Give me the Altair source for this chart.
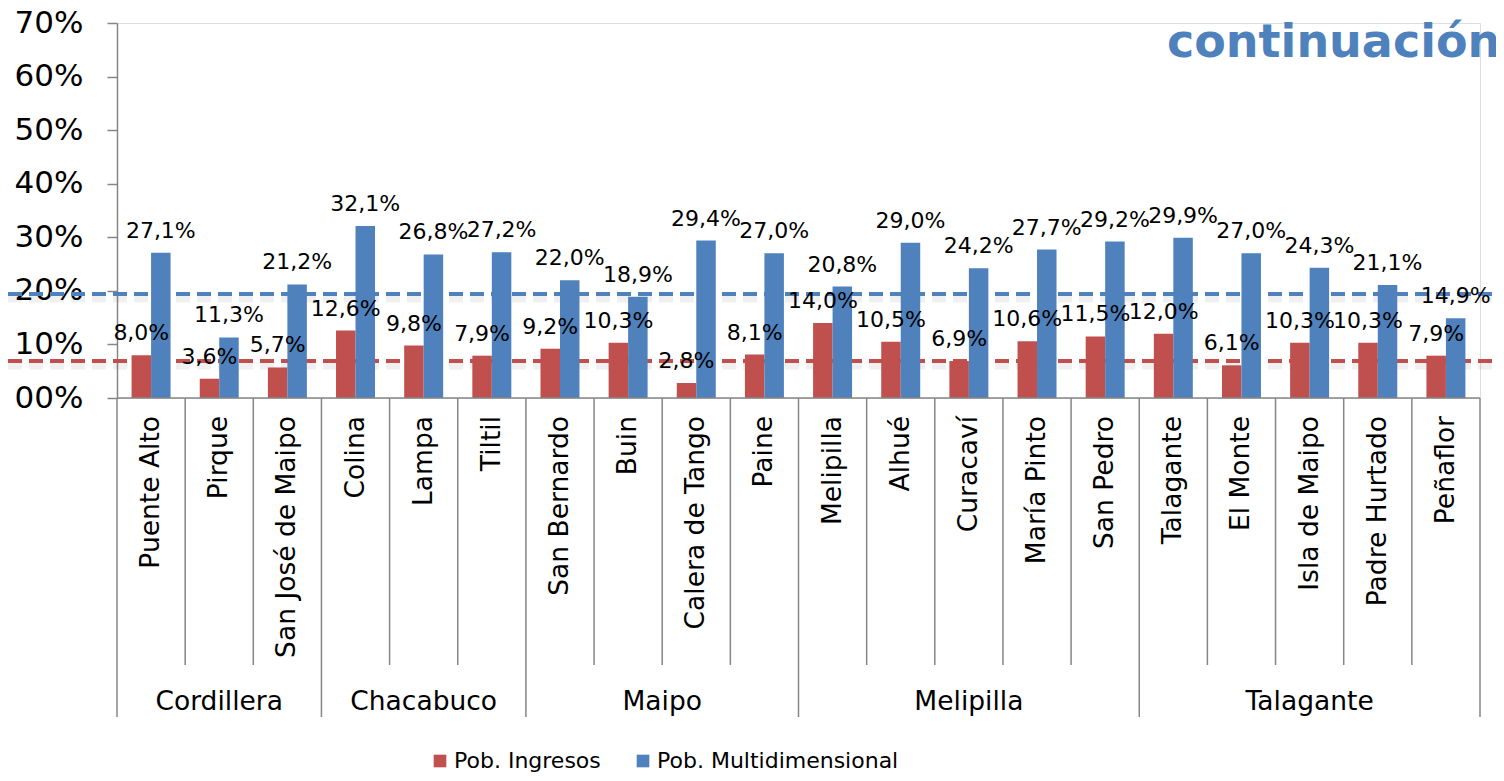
import altair as alt
import pandas as pd

communes = ["Puente Alto", "Pirque", "San José de Maipo", "Colina", "Lampa", "Tiltil",
            "San Bernardo", "Buin", "Calera de Tango", "Paine", "Melipilla", "Alhué",
            "Curacaví", "María Pinto", "San Pedro", "Talagante", "El Monte",
            "Isla de Maipo", "Padre Hurtado", "Peñaflor"]
ingresos = [8.0, 3.6, 5.7, 12.6, 9.8, 7.9, 9.2, 10.3, 2.8, 8.1, 14.0, 10.5, 6.9, 10.6,
            11.5, 12.0, 6.1, 10.3, 10.3, 7.9]
multidim = [27.1, 11.3, 21.2, 32.1, 26.8, 27.2, 22.0, 18.9, 29.4, 27.0, 20.8, 29.0, 24.2,
            27.7, 29.2, 29.9, 27.0, 24.3, 21.1, 14.9]
provinces = ["Cordillera", "Chacabuco", "Maipo", "Melipilla", "Talagante"]
province_sizes = [3, 3, 4, 5, 5]
series = ["Pob. Ingresos", "Pob. Multidimensional"]
colors = ["#C0504D", "#4F81BD"]
ref_lines = [6.9, 19.4]  # red (ingresos), blue (multidimensional)
title_text = "continuación"

W, H = 1363, 375
FONT = "DejaVu Sans"
HALF = 0.286

rows = []
for i, c in enumerate(communes):
    rows.append({"i": i, "commune": c, "serie": series[0], "v": ingresos[i]})
    rows.append({"i": i, "commune": c, "serie": series[1], "v": multidim[i]})
bars_df = pd.DataFrame(rows)
bars_df["x0"] = bars_df.apply(lambda r: r.i + 0.5 - HALF if r.serie == series[0] else r.i + 0.5, axis=1)
bars_df["x1"] = bars_df["x0"] + HALF
bars_df["xc"] = (bars_df["x0"] + bars_df["x1"]) / 2

cat_df = pd.DataFrame({"i": range(len(communes)), "commune": communes})
cat_df["xc"] = cat_df["i"] + 0.5

bounds = [0]
for s in province_sizes:
    bounds.append(bounds[-1] + s)
prov_df = pd.DataFrame({"prov": provinces, "a": bounds[:-1], "b": bounds[1:]})
prov_df["xc"] = (prov_df["a"] + prov_df["b"]) / 2
minor_sep = pd.DataFrame({"p": [k for k in range(1, len(communes)) if k not in bounds]})
major_sep = pd.DataFrame({"p": bounds})
ref_df = pd.DataFrame({"v": ref_lines, "serie": series})

xs = alt.Scale(domain=[0, len(communes)], nice=False, zero=False)
ys = alt.Scale(domain=[0, 70], nice=False)
cs = alt.Scale(domain=series, range=colors)

bars = alt.Chart(bars_df).mark_bar(size=1).encode(
    x=alt.X("x0:Q", scale=xs, axis=None),
    x2="x1:Q",
    y=alt.Y("v:Q", scale=ys, axis=alt.Axis(
        values=[0, 10, 20, 30, 40, 50, 60, 70],
        labelExpr="datum.value == 0 ? '00%' : datum.value + '%'",
        labelFontSize=31, labelFont=FONT, labelColor="#000000",
        labelPadding=24, tickSize=10, tickColor="#868686", domainColor="#868686",
        domainWidth=1.5, tickWidth=1.5, grid=False, title=None)),
    y2=alt.datum(0),
    color=alt.Color("serie:N", scale=cs, legend=alt.Legend(
        orient="none", legendX=312, legendY=727, direction="horizontal",
        title=None, symbolType="square", symbolSize=160, symbolStrokeWidth=0,
        labelFontSize=22, labelFont=FONT, labelColor="#000000", labelOffset=3,
        columnPadding=31, padding=0, labelLimit=400)),
)

labels = alt.Chart(bars_df).transform_calculate(
    lab="replace(format(datum.v, '.1f'), '.', ',') + '%'"
).mark_text(fontSize=22, font=FONT, color="#000000", baseline="alphabetic", dy=-15).encode(
    x=alt.X("xc:Q", scale=xs), y=alt.Y("v:Q", scale=ys), text="lab:N")

layers = []
for k in range(len(series)):
    sub = ref_df[ref_df["serie"] == series[k]]
    layers.append(alt.Chart(sub).mark_rule(strokeWidth=7, strokeDash=[14, 7], color="#000000", opacity=0.06).encode(
        y=alt.Y("v:Q", scale=ys), x=alt.value(-109), x2=alt.value(W + 16), yOffset=alt.value(5)))
    layers.append(alt.Chart(sub).mark_rule(strokeWidth=4, strokeDash=[14, 7], color=colors[k]).encode(
        y=alt.Y("v:Q", scale=ys), x=alt.value(-109), x2=alt.value(W + 16)))

xaxis = alt.Chart(pd.DataFrame({"a": [0], "b": [len(communes)]})).mark_rule(color="#868686", strokeWidth=1.5).encode(
    x=alt.X("a:Q", scale=xs), x2="b:Q", y=alt.value(H))
minor = alt.Chart(minor_sep).mark_rule(color="#868686", strokeWidth=1.5).encode(
    x=alt.X("p:Q", scale=xs), y=alt.value(H), y2=alt.value(642))
major = alt.Chart(major_sep).mark_rule(color="#868686", strokeWidth=1.5).encode(
    x=alt.X("p:Q", scale=xs), y=alt.value(H), y2=alt.value(694))

cat_text = alt.Chart(cat_df).mark_text(angle=270, align="right", baseline="middle",
                                       fontSize=26.5, font=FONT, color="#000000").encode(
    x=alt.X("xc:Q", scale=xs), y=alt.value(393), text="commune:N")
prov_text = alt.Chart(prov_df).mark_text(align="center", baseline="middle",
                                         fontSize=26.5, font=FONT, color="#000000").encode(
    x=alt.X("xc:Q", scale=xs), y=alt.value(679), text="prov:N")

title = alt.Chart(pd.DataFrame({"t": [title_text]})).mark_text(
    align="left", baseline="alphabetic", fontSize=46, font=FONT, fontWeight="bold",
    color="#4F81BD").encode(x=alt.value(1050), y=alt.value(34), text="t:N")

chart = alt.layer(*layers, bars, labels, xaxis, minor, major, cat_text, prov_text, title).properties(
    width=W, height=H,
    autosize=alt.AutoSizeParams(type="none"),
    padding={"left": 109, "top": 15, "right": 16, "bottom": 375},
).configure_view(stroke=None).configure(background="#FFFFFF")

chart.save("out.html", embed_options={"renderer": "svg", "actions": False})
